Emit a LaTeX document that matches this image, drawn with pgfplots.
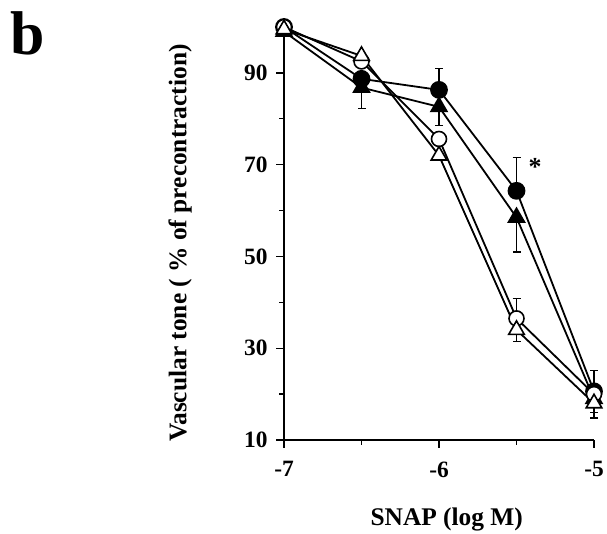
\documentclass[border=0pt]{standalone}
\usepackage{pgfplots}
\pgfplotsset{compat=1.18}
\usepackage{fontspec}
\setmainfont{Liberation Serif}
\begin{document}
\begin{tikzpicture}
\path[use as bounding box] (0,0) rectangle (607bp,534bp);
\begin{axis}[
  at={(284bp,94bp)}, anchor=south west,
  scale only axis, width=310bp, height=413bp,
  xmin=-7, xmax=-5, ymin=10, ymax=100,
  clip=false,
  axis lines=left,
  axis line style={-, line width=1.6bp},
  xtick={-7,-6,-5}, xticklabels={-7,-6,-5},
  ytick={10,30,50,70,90}, yticklabels={10,30,50,70,90},
  minor xtick={-6.5,-5.5}, minor ytick={20,40,60,80},
  tick align=outside,
  major tick length=8bp, minor tick length=5bp,
  tick style={line width=1.4bp, black},
  ticklabel style={font=\fontsize{23.5}{26}\selectfont\bfseries},
  xticklabel style={yshift=-10bp},
  yticklabel style={xshift=-5bp},
  xlabel={SNAP (log M)},
  ylabel={Vascular tone ( \% of precontraction)},
  label style={font=\fontsize{25.5}{28}\selectfont\bfseries},
  xlabel style={at={(axis description cs:0.525,-0.192)}, anchor=center},
  ylabel style={at={(axis description cs:-0.335,0.477)}, anchor=center},
  error bars/error bar style={line width=1.4bp, black},
  error bars/error mark options={rotate=90, mark size=4bp, line width=1.4bp, black},
]
% filled triangles
\addplot[black, line width=1.8bp, mark=triangle*, mark size=9bp, mark options={fill=black, draw=black},
  error bars/.cd, y dir=both, y explicit]
coordinates {
  (-7,99) +- (0,0)
  (-6.5,86.8) += (0,0) -= (0,4.5)
  (-6,82.6) += (0,0) -= (0,4)
  (-5.5,58.5) += (0,0) -= (0,7.5)
  (-5,19) += (0,0) -= (0,3)
};
% filled circles
\addplot[black, line width=1.8bp, mark=*, mark size=8bp, mark options={fill=black, draw=black},
  error bars/.cd, y dir=both, y explicit]
coordinates {
  (-7,100) +- (0,0)
  (-6.5,88.7) += (0,0) -= (0,0)
  (-6,86.3) += (0,4.6) -= (0,0)
  (-5.5,64.3) += (0,7.2) -= (0,0)
  (-5,20.6) += (0,4.6) -= (0,0)
};
% open circles
\addplot[black, line width=1.8bp, mark=*, mark size=7.5bp, mark options={fill=white, draw=black, line width=1.6bp},
  error bars/.cd, y dir=both, y explicit]
coordinates {
  (-7,100) +- (0,0)
  (-6.5,92.5) += (0,0) -= (0,0)
  (-6,75.6) += (0,0) -= (0,0)
  (-5.5,36.5) += (0,4.4) -= (0,0)
  (-5,20) += (0,0) -= (0,0)
};
% open triangles
\addplot[black, line width=1.8bp, mark=triangle*, mark size=9bp, mark options={fill=white, draw=black, line width=1.6bp},
  error bars/.cd, y dir=both, y explicit]
coordinates {
  (-7,99.5) +- (0,0)
  (-6.5,93.7) += (0,0) -= (0,0)
  (-6,72) += (0,0) -= (0,0)
  (-5.5,34) += (0,0) -= (0,2.5)
  (-5,18) += (0,0) -= (0,3.2)
};
\node[font=\fontsize{26}{26}\selectfont\bfseries] at (axis cs:-5.38,69.5) {*};
\end{axis}
\node[font=\fontsize{62}{62}\selectfont\bfseries] at (28bp,501bp) {b};
\end{tikzpicture}
\end{document}
